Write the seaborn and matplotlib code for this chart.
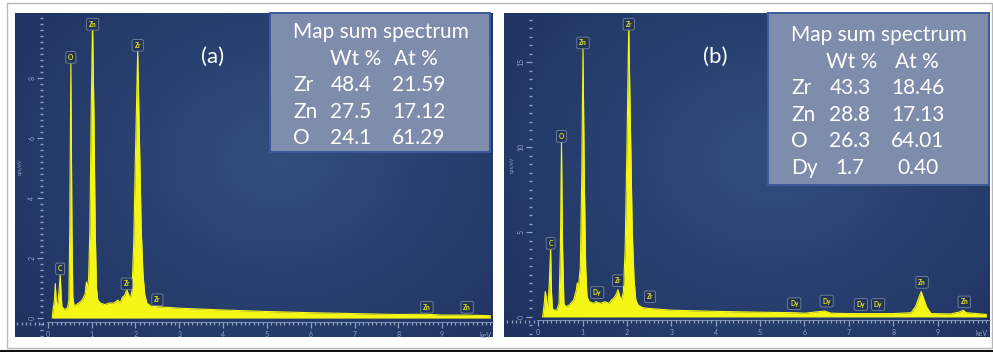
import numpy as np
import matplotlib
matplotlib.use("Agg")
import matplotlib.pyplot as plt
from matplotlib.patches import Rectangle
from matplotlib.lines import Line2D
from matplotlib.ticker import MultipleLocator
import seaborn as sns

# ---------------- data ----------------
energy_a = [0.10, 0.12, 0.15, 0.17, 0.19, 0.21, 0.23, 0.26, 0.28, 0.30, 0.32, 0.36, 0.40,
            0.45, 0.48, 0.50, 0.525, 0.55, 0.57, 0.60, 0.65, 0.70, 0.75, 0.80, 0.85, 0.88,
            0.90, 0.93, 0.96, 0.99, 1.02, 1.05, 1.08, 1.11, 1.14, 1.20, 1.30, 1.40, 1.50,
            1.55, 1.60, 1.65, 1.70, 1.75, 1.80, 1.84, 1.88, 1.92, 1.96, 2.00, 2.05, 2.09,
            2.13, 2.17, 2.21, 2.26, 2.35, 2.50, 3.0, 3.5, 4.0, 5.0, 6.0, 7.0, 8.0, 8.63,
            9.0, 9.57, 10.1]
counts_a = [0.0, 0.3, 0.6, 1.15, 0.6, 0.4, 0.5, 1.0, 1.45, 0.9, 0.4, 0.3, 0.3,
            0.35, 0.6, 3.0, 8.5, 3.0, 0.7, 0.4, 0.45, 0.5, 0.55, 0.65, 0.8, 1.2,
            1.0, 1.3, 3.0, 7.0, 9.85, 7.0, 3.0, 1.0, 0.6, 0.5, 0.45, 0.5, 0.5,
            0.55, 0.6, 0.5, 0.7, 0.75, 0.95, 0.8, 0.65, 0.9, 2.5, 5.5, 8.9, 6.0,
            3.0, 1.5, 0.8, 0.5, 0.4, 0.38, 0.33, 0.3, 0.27, 0.22, 0.18, 0.15, 0.12, 0.13,
            0.1, 0.1, 0.08]

energy_b = [0.10, 0.13, 0.16, 0.18, 0.20, 0.22, 0.25, 0.28, 0.30, 0.32, 0.36, 0.42, 0.47,
            0.50, 0.525, 0.55, 0.58, 0.62, 0.70, 0.80, 0.86, 0.88, 0.91, 0.95, 0.98, 1.01,
            1.04, 1.07, 1.10, 1.15, 1.25, 1.30, 1.40, 1.50, 1.60, 1.65, 1.70, 1.75, 1.80,
            1.84, 1.88, 1.92, 1.96, 2.00, 2.04, 2.08, 2.12, 2.16, 2.20, 2.25, 2.35, 2.50,
            3.0, 4.0, 5.0, 5.8, 6.0, 6.45, 6.6, 7.0, 7.5, 8.0, 8.4, 8.5, 8.63, 8.75, 8.85,
            9.3, 9.5, 9.57, 9.65, 10.1]
counts_b = [0.0, 0.6, 1.5, 1.2, 0.7, 0.6, 2.0, 4.0, 1.5, 0.5, 0.4, 0.4, 0.8,
            4.0, 10.3, 4.0, 0.8, 0.6, 0.7, 1.0, 1.6, 2.0, 1.8, 3.0, 8.0, 15.8,
            8.0, 3.0, 1.2, 0.9, 0.8, 0.9, 0.8, 0.9, 0.8, 1.0, 1.1, 1.3, 1.6,
            1.2, 1.0, 1.5, 4.0, 10.0, 17.2, 11.0, 5.0, 2.2, 1.0, 0.7, 0.55, 0.5,
            0.4, 0.33, 0.28, 0.25, 0.22, 0.35, 0.22, 0.2, 0.2, 0.2, 0.25, 0.6, 1.5, 0.6, 0.2,
            0.18, 0.3, 0.4, 0.25, 0.15]

peak_names_a = ["C", "O", "Zn", "Zr", "Zr", "Zr", "Zn", "Zn"]
peak_x_a = [0.28, 0.525, 1.02, 2.05, 1.80, 2.50, 8.65, 9.57]
peak_y_a = [1.45, 8.5, 9.6, 8.9, 0.95, 0.42, 0.17, 0.17]

peak_names_b = ["C", "O", "Zn", "Zr", "Dy", "Zr", "Zr", "Dy", "Dy", "Dy", "Dy", "Zn", "Zn"]
peak_x_b = [0.28, 0.525, 1.01, 2.04, 1.33, 1.80, 2.52, 5.77, 6.50, 7.27, 7.66, 8.65, 9.60]
peak_y_b = [4.0, 10.3, 15.8, 16.9, 1.1, 1.8, 0.85, 0.45, 0.6, 0.4, 0.4, 1.7, 0.55]

ticks_a = [0, 2, 4, 6, 8]
ticks_b = [0, 5, 10, 15]
xticks = [0, 1, 2, 3, 4, 5, 6, 7, 8, 9]

table_title = "Map sum spectrum"
table_head = ["Wt %", "At %"]
elements_a = ["Zr", "Zn", "O"]
wt_a = ["48.4", "27.5", "24.1"]
at_a = ["21.59", "17.12", "61.29"]
elements_b = ["Zr", "Zn", "O", "Dy"]
wt_b = ["43.3", "28.8", "26.3", "1.7"]
at_b = ["18.46", "17.13", "64.01", "0.40"]

# ---------------- styling ----------------
sns.set_theme(style="dark")
plt.rcParams["font.family"] = ["Lato", "DejaVu Sans"]

W, H = 993, 352
fig = plt.figure(figsize=(W / 100, H / 100), dpi=100)
fig.patch.set_facecolor("white")

YELLOW = "#f5f516"
TICKC = "#8fa0c2"


def fx(px):
    return px / W


def fy(py):
    return 1 - py / H


# outer frame
fig.add_artist(Rectangle((fx(7), fy(348)), fx(985), 345 / H, transform=fig.transFigure,
                         fill=False, ec="#b8b8b8", lw=1.0))
fig.add_artist(Line2D([0, 1], [fy(350.5), fy(350.5)], transform=fig.transFigure,
                      color="#111111", lw=2.2))


def gradient(ax, xlim, ylim):
    nx, ny = 200, 120
    gx, gy = np.meshgrid(np.linspace(0, 1, nx), np.linspace(0, 1, ny))
    r = np.sqrt(((gx - 0.55) / 0.75) ** 2 + ((gy - 0.55) / 0.9) ** 2)
    r = np.clip(r, 0, 1)
    c0 = np.array([0x31, 0x4e, 0x7f]) / 255
    c1 = np.array([0x1e, 0x30, 0x5e]) / 255
    img = c0[None, None, :] * (1 - r[..., None]) + c1[None, None, :] * r[..., None]
    ax.imshow(img, extent=[xlim[0], xlim[1], ylim[0], ylim[1]], origin="lower",
              aspect="auto", zorder=0, interpolation="bilinear")


def panel(rect_px, xlim, ylim, energy, counts, yt, yminor, xsp, ysp,
          names, px_, py_, letter, letter_px, table_px, elements, wt, at,
          col_px, ylab_px):
    l, t, r, b = rect_px
    ax = fig.add_axes([fx(l), fy(b), fx(r - l), (b - t) / H])
    gradient(ax, xlim, ylim)
    ax.set_xlim(*xlim)
    ax.set_ylim(*ylim)
    ax.grid(False)
    ax.fill_between(energy, 0, counts, color=YELLOW, lw=0, zorder=2)
    sns.lineplot(x=energy, y=counts, ax=ax, color=YELLOW, lw=0.8, sort=False,
                 estimator=None, zorder=3)
    ax.set_xlabel("")
    ax.set_ylabel("")
    for s in ["top", "right"]:
        ax.spines[s].set_visible(False)
    ax.spines["bottom"].set_position(("data", xsp))
    ax.spines["left"].set_position(("data", ysp))
    ax.spines["bottom"].set_color(TICKC)
    ax.spines["bottom"].set_linewidth(0.6)
    ax.spines["bottom"].set_bounds(-0.02, xlim[1])
    ax.spines["left"].set_linewidth(0)
    ax.set_xticks(xticks)
    ax.set_yticks(yt)
    ax.xaxis.set_minor_locator(MultipleLocator(0.1))
    ax.yaxis.set_minor_locator(MultipleLocator(yminor))
    ax.tick_params(axis="x", which="major", direction="out", length=4, width=0.9,
                   color=TICKC, labelcolor=TICKC, labelsize=5, pad=2.5, bottom=True)
    ax.tick_params(axis="x", which="minor", direction="out", length=2.2, width=0.9,
                   color=TICKC, bottom=True)
    ax.tick_params(axis="y", which="major", direction="out", length=4.5, width=0.9,
                   color=TICKC, labelcolor=TICKC, labelsize=5, pad=1, left=True,
                   labelrotation=90)
    ax.tick_params(axis="y", which="minor", direction="out", length=2.2, width=1.0,
                   color=TICKC, left=True)
    for lab in ax.get_yticklabels():
        lab.set_va("center")
    ax.text(xlim[1] - 0.18, xsp - 0.03 * (ylim[1] - ylim[0]), "keV", color=TICKC,
            fontsize=5, ha="center", va="top")
    fig.text(fx(ylab_px[0]), fy(ylab_px[1]), "cps/eV", rotation=90, color=TICKC,
             fontsize=3.8, ha="center", va="center")
    # element markers
    for n, x, y in zip(names, px_, py_):
        ax.annotate(n, xy=(x, y), xytext=(0, 1.6), textcoords="offset points",
                    ha="center", va="bottom", fontsize=4.8, color="#e6e81a",
                    fontweight="bold", zorder=5,
                    bbox=dict(boxstyle="round,pad=0.35,rounding_size=0.25",
                              fc="#223558", ec="#7a89a6", lw=0.6, alpha=0.95))
    # panel letter
    fig.text(fx(letter_px[0]), fy(letter_px[1]), letter, color="white", fontsize=16,
             ha="center", va="center")
    # table
    tl, tt, tr, tb = table_px
    fig.add_artist(Rectangle((fx(tl), fy(tb)), fx(tr - tl), (tb - tt) / H,
                             transform=fig.transFigure, fc="#7f8dac", ec="#3e5a9c",
                             lw=1.4, zorder=4))
    x_el, x_wt, x_at, x_title, x_h1, x_h2, y0, dy = col_px
    fs = 15
    fig.text(fx(x_title), fy(y0), table_title, color="white", fontsize=fs,
             ha="left", va="center", zorder=6)
    fig.text(fx(x_h1), fy(y0 + dy), table_head[0], color="white", fontsize=fs,
             ha="center", va="center", zorder=6)
    fig.text(fx(x_h2), fy(y0 + dy), table_head[1], color="white", fontsize=fs,
             ha="center", va="center", zorder=6)
    for i, (e, w, a) in enumerate(zip(elements, wt, at)):
        yy = y0 + dy * (i + 2)
        fig.text(fx(x_el), fy(yy), e, color="white", fontsize=fs, ha="left",
                 va="center", zorder=6)
        fig.text(fx(x_wt), fy(yy), w, color="white", fontsize=fs, ha="center",
                 va="center", zorder=6)
        fig.text(fx(x_at), fy(yy), a, color="white", fontsize=fs, ha="center",
                 va="center", zorder=6)
    return ax


panel((15, 13, 493, 337), (-0.75, 10.16), (-0.63, 10.17), energy_a, counts_a,
      ticks_a, 0.2, -0.13, -0.11, peak_names_a, peak_x_a, peak_y_a,
      "(a)", (213, 57), (270, 13, 490, 152), elements_a, wt_a, at_a,
      (293, 351, 419, 293, 356, 416, 32, 26.6), (20, 167))

panel((504, 13, 990, 337), (-0.77, 10.18), (-1.18, 17.9), energy_b, counts_b,
      ticks_b, 0.5, -0.18, -0.14, peak_names_b, peak_x_b, peak_y_b,
      "(b)", (715, 57), (768, 13, 989, 185), elements_b, wt_b, at_b,
      (791, 850, 918, 791, 852, 917, 35, 26.6), (512, 165))

fig.savefig("out.png", dpi=100, facecolor="white")
